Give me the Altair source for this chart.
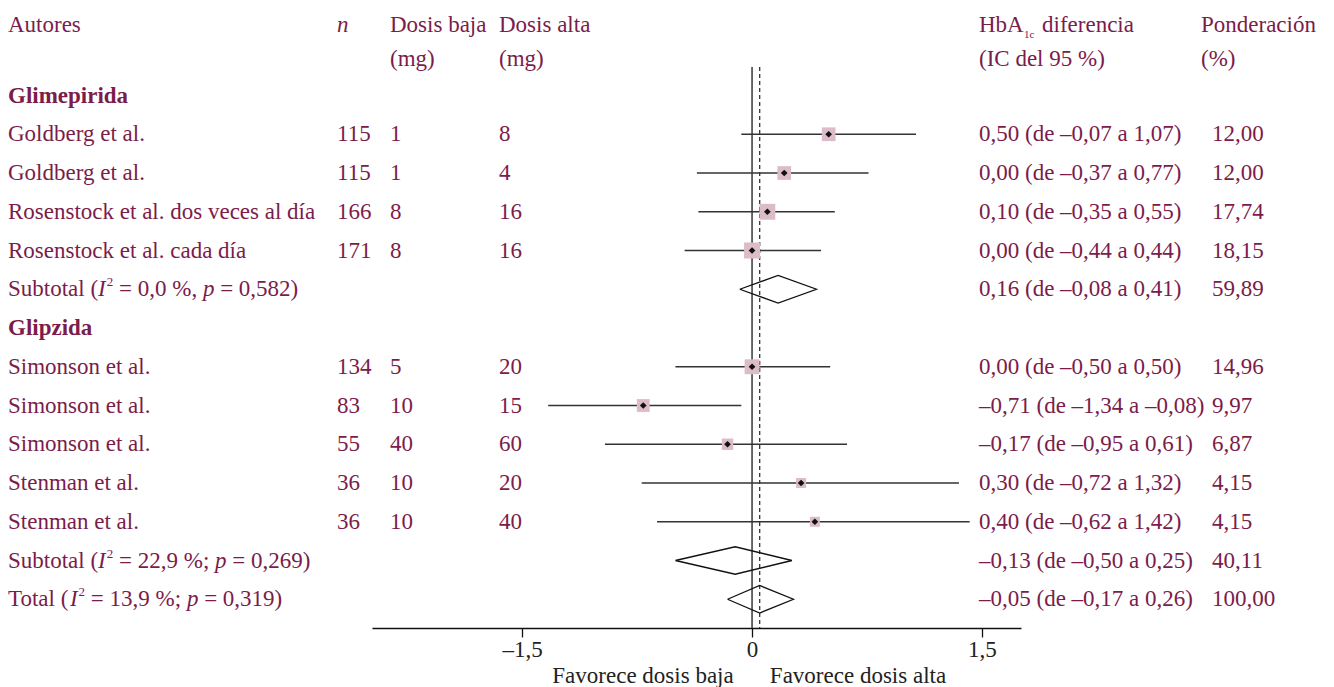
import altair as alt
import pandas as pd

# ---------------- data ----------------
authors = ["Goldberg et al.", "Goldberg et al.", "Rosenstock et al. dos veces al día",
           "Rosenstock et al. cada día", "Simonson et al.", "Simonson et al.",
           "Simonson et al.", "Stenman et al.", "Stenman et al."]
study_rows = [1, 2, 3, 4, 7, 8, 9, 10, 11]
n_vals = [115, 115, 166, 171, 134, 83, 55, 36, 36]
dose_low = [1, 1, 8, 8, 5, 10, 40, 10, 10]
dose_high = [8, 4, 16, 16, 20, 15, 60, 20, 40]
est = [0.50, 0.21, 0.10, 0.00, 0.00, -0.71, -0.16, 0.32, 0.41]
ci_low = [-0.07, -0.36, -0.35, -0.44, -0.50, -1.33, -0.96, -0.72, -0.62]
ci_high = [1.07, 0.76, 0.54, 0.45, 0.51, -0.07, 0.62, 1.35, 1.42]
weights = [12.00, 12.00, 17.74, 18.15, 14.96, 9.97, 6.87, 4.15, 4.15]

pooled_rows = [5, 12, 13]
pooled_est = [0.17, -0.11, 0.05]
pooled_low = [-0.08, -0.50, -0.16]
pooled_high = [0.42, 0.26, 0.27]

effect_rows = [1, 2, 3, 4, 5, 7, 8, 9, 10, 11, 12, 13]
effect_labels = ["0,50 (de –0,07 a 1,07)", "0,00 (de –0,37 a 0,77)", "0,10 (de –0,35 a 0,55)",
                 "0,00 (de –0,44 a 0,44)", "0,16 (de –0,08 a 0,41)", "0,00 (de –0,50 a 0,50)",
                 "–0,71 (de –1,34 a –0,08)", "–0,17 (de –0,95 a 0,61)", "0,30 (de –0,72 a 1,32)",
                 "0,40 (de –0,62 a 1,42)", "–0,13 (de –0,50 a 0,25)", "–0,05 (de –0,17 a 0,26)"]
weight_labels = ["12,00", "12,00", "17,74", "18,15", "59,89", "14,96", "9,97", "6,87",
                 "4,15", "4,15", "40,11", "100,00"]

group_labels = ["Glimepirida", "Glipzida"]
group_rows = [0, 6]

pooled_label_parts = [
    ("Subtotal (", " = 0,0 %, ", " = 0,582)"),
    ("Subtotal (", " = 22,9 %; ", " = 0,269)"),
    ("Total (", " = 13,9 %; ", " = 0,319)"),
]

overall_line = [0.05]
null_line = [0.0]
tick_values = [-1.5, 0, 1.5]

# ---------------- tables ----------------
studies = pd.DataFrame({
    "row": study_rows, "author": authors, "n": n_vals, "lowd": dose_low, "highd": dose_high,
    "est": est, "lo": ci_low, "hi": ci_high, "w": weights,
})
effects = pd.DataFrame({"row": effect_rows, "eff": effect_labels, "wt": weight_labels})
groups = pd.DataFrame({"row": group_rows, "g": group_labels})

HALF = 0.355
poly = []
for i, (r, e, lo, hi) in enumerate(zip(pooled_rows, pooled_est, pooled_low, pooled_high)):
    pts = [(lo, r), (e, r - HALF), (hi, r), (e, r + HALF), (lo, r)]
    for k, (xx, yy) in enumerate(pts):
        poly.append({"id": i, "o": k, "x": xx, "y": yy})
poly = pd.DataFrame(poly)

# ---------------- styling ----------------
FONT = "Liberation Serif"
FS = 23
TXT = "#7b1c4b"
PINK = "#dcbcc8"

xscale = alt.Scale(domain=[-2.48, 1.755], range=[364, 1013], nice=False, zero=False)
yscale = alt.Scale(domain=[0, 13], range=[87.5, 591.25], nice=False, zero=False)
xaxis = alt.Axis(values=tick_values, orient="bottom", grid=False, title=None,
                 domainColor="#111", domainWidth=1.3, tickColor="#111", tickWidth=1.3,
                 tickSize=9, labelFont=FONT, labelFontSize=FS, labelColor="#222",
                 labelPadding=1,
                 labelExpr="datum.value == 0 ? '0' : (datum.value < 0 ? '–' : '') + replace(format(abs(datum.value), '.1f'), '.', ',')")


def X(field):
    return alt.X(field, type="quantitative", scale=xscale, axis=xaxis)


def Y(field):
    return alt.Y(field, type="quantitative", scale=yscale, axis=None)


# Times / Liberation Serif advance widths (per 1000 em)
W = {" ": 250, "(": 333, ")": 333, ",": 250, ".": 250, ";": 278, "=": 564, "%": 833,
     "S": 556, "T": 611, "u": 500, "b": 500, "t": 278, "o": 500, "a": 444, "l": 278,
     "H": 722, "A": 722, "c": 444, "d": 500, "i": 278, "f": 333, "e": 444, "r": 333, "n": 500}


def tw(s, size):
    return sum(W.get(ch, 500) for ch in s) * size / 1000.0


layers = []

# vertical reference lines
layers.append(alt.Chart(pd.DataFrame({"v": null_line})).mark_rule(color="#444", strokeWidth=1.6)
              .encode(x=X("v"), y=alt.value(59), y2=alt.value(620)))
layers.append(alt.Chart(pd.DataFrame({"v": overall_line})).mark_rule(color="#222", strokeWidth=1.2,
                                                                        strokeDash=[4, 3])
              .encode(x=X("v"), y=alt.value(59), y2=alt.value(620)))

# confidence intervals
layers.append(alt.Chart(studies).mark_rule(color="#333", strokeWidth=1.3)
              .encode(x=X("lo"), x2="hi", y=Y("row")))
# weight squares
layers.append(alt.Chart(studies).mark_square(color=PINK, opacity=1)
              .encode(x=X("est"), y=Y("row"),
                      size=alt.Size("w:Q", scale=alt.Scale(domain=[4.15, 18.15], range=[100, 256],
                                                            zero=False), legend=None)))
# point estimates
layers.append(alt.Chart(studies).mark_point(shape="diamond", filled=True, color="#111", size=45,
                                            opacity=1)
              .encode(x=X("est"), y=Y("row")))
# pooled diamonds
layers.append(alt.Chart(poly).mark_line(color="#111", strokeWidth=1.3)
              .encode(x=X("x"), y=Y("y"), detail="id:N", order="o:Q"))

base_txt = dict(font=FONT, fontSize=FS, color=TXT, baseline="middle", align="left")

# left columns
layers.append(alt.Chart(studies).mark_text(**base_txt).encode(x=alt.value(0), y=Y("row"), text="author:N"))
layers.append(alt.Chart(studies).mark_text(**base_txt).encode(x=alt.value(329), y=Y("row"), text="n:N"))
layers.append(alt.Chart(studies).mark_text(**base_txt).encode(x=alt.value(382), y=Y("row"), text="lowd:N"))
layers.append(alt.Chart(studies).mark_text(**base_txt).encode(x=alt.value(491), y=Y("row"), text="highd:N"))
layers.append(alt.Chart(groups).mark_text(fontWeight="bold", **base_txt)
              .encode(x=alt.value(0), y=Y("row"), text="g:N"))

# right columns
layers.append(alt.Chart(effects).mark_text(**base_txt).encode(x=alt.value(971), y=Y("row"), text="eff:N"))
layers.append(alt.Chart(effects).mark_text(**base_txt).encode(x=alt.value(1204), y=Y("row"), text="wt:N"))

# pooled row labels with italic I², p
for r, (a, b, c) in zip(pooled_rows, pooled_label_parts):
    d = pd.DataFrame({"row": [r]})
    x0 = 0.0
    segs = [(a, "normal", FS, 0), ("I", "italic", FS, 0), ("2", "normal", 13, -7),
            (b, "normal", FS, 0), ("p", "italic", FS, 0), (c, "normal", FS, 0)]
    for s, sty, size, dy in segs:
        lead = len(s) - len(s.lstrip(" "))
        x0 += lead * 250 * size / 1000.0
        core = s.strip(" ")
        trail = len(s.lstrip(" ")) - len(core)
        kw = dict(base_txt)
        kw["fontSize"] = size
        layers.append(alt.Chart(d).mark_text(fontStyle=sty, dy=dy, text=core, **kw)
                      .encode(x=alt.value(x0), y=Y("row")))
        if core == "I":
            x0 += 333 * size / 1000.0 + 1.0
        elif core == "p":
            x0 += 500 * size / 1000.0
        elif core == "2":
            x0 += 6.5
        else:
            x0 += tw(core, size)
        x0 += trail * 250 * size / 1000.0

# headers
one = pd.DataFrame({"k": [0]})


def htext(txt, x, y, **extra):
    kw = dict(base_txt)
    kw.update(extra)
    return alt.Chart(one).mark_text(text=txt, **kw).encode(x=alt.value(x), y=alt.value(y))


layers += [
    htext("Autores", 0, 17),
    htext("n", 329, 17, fontStyle="italic"),
    htext("Dosis baja", 382, 17), htext("(mg)", 382, 51),
    htext("Dosis alta", 491, 17), htext("(mg)", 491, 51),
    htext("HbA", 971, 17),
    htext("1c", 1016, 27, fontSize=11),
    htext("diferencia", 1034, 17),
    htext("(IC del 95 %)", 971, 51),
    htext("Ponderación", 1193, 17), htext("(%)", 1193, 51),
    htext("Favorece dosis baja", 635, 668, align="center", color="#222"),
    htext("Favorece dosis alta", 850, 668, align="center", color="#222"),
]

chart = (alt.layer(*layers)
         .properties(width=1318, height=620,
                     padding={"left": 0, "top": 0, "right": 0, "bottom": 59},
                     autosize=alt.AutoSizeParams(type="none"), background="white")
         .configure_view(stroke=None))

chart.save("out.html", embed_options={"renderer": "svg", "actions": False})
